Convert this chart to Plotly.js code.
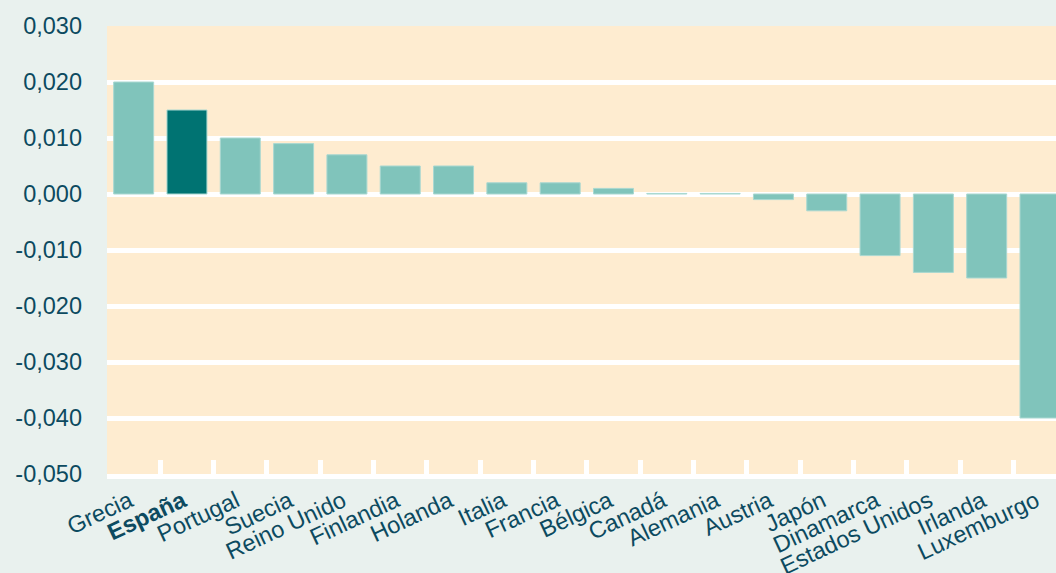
<!DOCTYPE html>
<html>
<head>
<meta charset="utf-8">
<script src="https://cdn.plot.ly/plotly-3.0.1.min.js"></script>
<style>html,body{margin:0;padding:0;background:#e9f1ee;}#chart{width:1056px;height:573px;}</style>
</head>
<body>
<div id="chart"></div>
<script>
const categories = ["Grecia","España","Portugal","Suecia","Reino Unido","Finlandia","Holanda","Italia","Francia","Bélgica","Canadá","Alemania","Austria","Japón","Dinamarca","Estados Unidos","Irlanda","Luxemburgo"];
const values = [0.020,0.015,0.010,0.009,0.007,0.005,0.005,0.002,0.002,0.001,0.0001,0.0001,-0.001,-0.003,-0.011,-0.014,-0.015,-0.040];
const highlight = "España";
const yTickVals = [0.03,0.02,0.01,0,-0.01,-0.02,-0.03,-0.04,-0.05];
const yTickText = ["0,030","0,020","0,010","0,000","-0,010","-0,020","-0,030","-0,040","-0,050"];

const lightColor = "#80c4bb";
const darkColor = "#007372";
const textColor = "#0c4a60";

const idx = categories.map((c,i)=>i);
const trace = {
  type: "bar",
  x: idx,
  y: values,
  width: 0.75,
  marker: {
    color: categories.map(c => c === highlight ? darkColor : lightColor),
    line: {color: "#a9d8d1", width: 1}
  },
  hoverinfo: "skip"
};

const layout = {
  width: 1056, height: 573,
  paper_bgcolor: "#e9f1ee",
  plot_bgcolor: "#feecd0",
  margin: {l: 107, r: 0, t: 26, b: 99},
  showlegend: false,
  bargap: 0.25,
  font: {family: "Liberation Sans, Arial, sans-serif", color: textColor, size: 23},
  xaxis: {
    type: "linear",
    range: [-0.5, 17.3],
    tickmode: "array",
    tickvals: idx,
    ticktext: categories.map(c => c === highlight ? "<b>" + c + "</b>" : c),
    tickangle: -25,
    ticks: "",
    ticklabelstandoff: 8,
    ticklabelshift: -4,
    showgrid: false,
    zeroline: false,
    showline: false,
    tickfont: {size: 23.5, color: textColor},
    fixedrange: true
  },
  xaxis2: {
    overlaying: "x",
    type: "linear",
    range: [-0.5, 17.3],
    tickmode: "array",
    tickvals: idx.map(i => i - 0.5),
    showticklabels: false,
    ticks: "inside",
    ticklen: 14,
    tickwidth: 5,
    tickcolor: "#ffffff",
    showline: true,
    linecolor: "#ffffff",
    linewidth: 5,
    showgrid: false,
    zeroline: false,
    anchor: "y"
  },
  yaxis: {
    range: [-0.05, 0.03],
    tickmode: "array",
    tickvals: yTickVals,
    ticktext: yTickText,
    showgrid: true,
    gridcolor: "#ffffff",
    gridwidth: 5,
    zeroline: true,
    zerolinecolor: "#ffffff",
    zerolinewidth: 5,
    showline: false,
    ticks: "",
    ticklabelstandoff: 24,
    tickfont: {size: 23.5, color: textColor},
    fixedrange: true
  }
};

const dummy = {type: "scatter", x: [], y: [], xaxis: "x2", yaxis: "y", hoverinfo: "skip"};

Plotly.newPlot("chart", [trace, dummy], layout, {displayModeBar: false, staticPlot: true});
</script>
</body>
</html>
